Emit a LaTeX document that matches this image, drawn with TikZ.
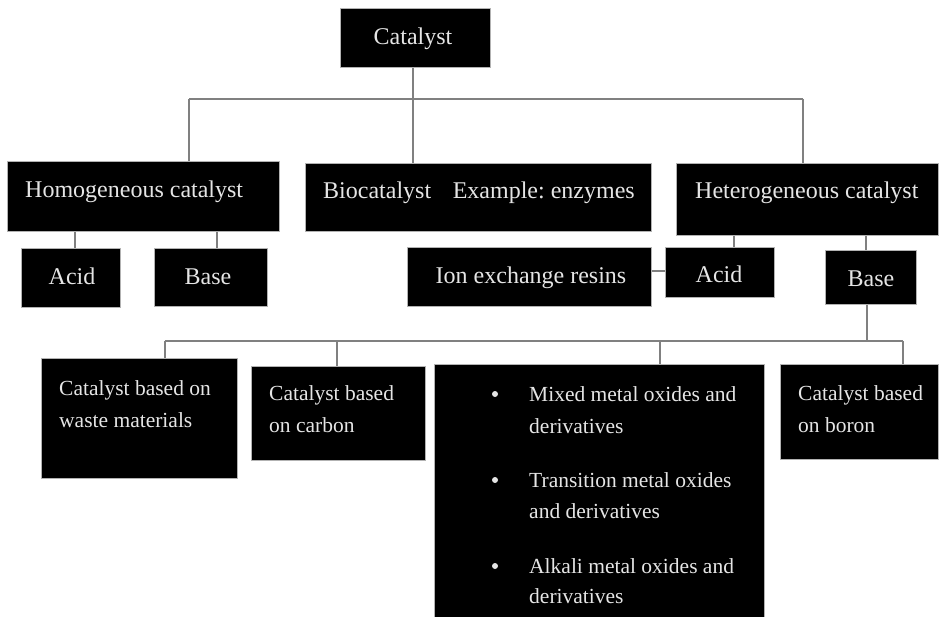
\documentclass[tikz,border=0pt]{standalone}
\usepackage{fontspec}
\setmainfont{Liberation Serif}
\begin{document}
\begin{tikzpicture}[x=1pt,y=-1pt,
  box/.style={fill=black,draw=gray!60,line width=0.8pt,anchor=north west,inner sep=0pt},
  big/.style={text=white!90!black,font=\frenchspacing\fontsize{24}{24}\selectfont,inner sep=0pt},
  small/.style={text=white!90!black,font=\fontsize{21.5}{21.5}\selectfont,inner sep=0pt,anchor=base west},
  dot/.style={circle,fill=white!90!black,inner sep=0pt,minimum size=6pt},
  conn/.style={draw=gray,line width=1.3pt}]
\useasboundingbox (0,0) rectangle (939,617);
% boxes
\node[box,minimum width=150,minimum height=59] (cat) at (340,8) {};
\node[box,minimum width=272,minimum height=70] (homo) at (7,161) {};
\node[box,minimum width=346,minimum height=68] (bio) at (305,163) {};
\node[box,minimum width=262,minimum height=72] (het) at (676,163) {};
\node[box,minimum width=99,minimum height=59] (acidL) at (21,248) {};
\node[box,minimum width=113,minimum height=58] (baseL) at (154,248) {};
\node[box,minimum width=244,minimum height=59] (ion) at (407,247) {};
\node[box,minimum width=109,minimum height=50] (acidR) at (665,247) {};
\node[box,minimum width=91,minimum height=54] (baseR) at (825,250) {};
\node[box,minimum width=196,minimum height=120] (waste) at (41,358) {};
\node[box,minimum width=174,minimum height=94] (carbon) at (251,366) {};
\node[box,minimum width=330,minimum height=256] (oxides) at (434,364) {};
\node[box,minimum width=158,minimum height=95] (boron) at (780,364) {};
% texts
\node[big,anchor=base] (tcat) at (413,45) {Catalyst};
\node[big,anchor=base west] (thomo) at (25,198) {Homogeneous catalyst};
\node[big,anchor=base west] (tbio) at (323,199) {Biocatalyst\hspace{0.9em}Example: enzymes};
\node[big,anchor=base west] (thet) at (695,199) {Heterogeneous catalyst};
\node[big,anchor=base] (tacidL) at (72,285) {Acid};
\node[big,anchor=base] (tbaseL) at (208,285) {Base};
\node[big,anchor=base] (tion) at (531,284) {Ion exchange resins};
\node[big,anchor=base] (tacidR) at (719,283) {Acid};
\node[big,anchor=base] (tbaseR) at (871,287) {Base};
\node[small] (tw1) at (59,395) {Catalyst based on};
\node[small] (tw2) at (59,427) {waste materials};
\node[small] (tc1) at (269,400) {Catalyst based};
\node[small] (tc2) at (269,432) {on carbon};
\node[small] (tb1) at (798,400) {Catalyst based};
\node[small] (tb2) at (798,432) {on boron};
\node[dot] (d1) at (495,394) {};
\node[small] (to1) at (529,401) {Mixed metal oxides and};
\node[small] (to2) at (529,433) {derivatives};
\node[dot] (d2) at (495,480) {};
\node[small] (to3) at (529,487) {Transition metal oxides};
\node[small] (to4) at (529,518) {and derivatives};
\node[dot] (d3) at (495,566) {};
\node[small] (to5) at (529,573) {Alkali metal oxides and};
\node[small] (to6) at (529,603) {derivatives};
% connectors
\coordinate (b1l) at (189,99);
\coordinate (b1r) at (803,99);
\coordinate (b1c) at (413,99);
\draw[conn] (b1l) -- (b1r);
\draw[conn] (b1c |- cat.south) -- (b1c |- bio.north);
\draw[conn] (b1l) -- (b1l |- homo.north);
\draw[conn] (b1r) -- (b1r |- het.north);
\coordinate (xa) at (75,0);
\coordinate (xb) at (217,0);
\draw[conn] (xa |- homo.south) -- (xa |- acidL.north);
\draw[conn] (xb |- homo.south) -- (xb |- baseL.north);
\coordinate (xc) at (734,0);
\coordinate (xd) at (866,0);
\draw[conn] (xc |- het.south) -- (xc |- acidR.north);
\draw[conn] (xd |- het.south) -- (xd |- baseR.north);
\coordinate (yi) at (0,271);
\draw[conn] (ion.east |- yi) -- (acidR.west |- yi);
\coordinate (b2l) at (165,341);
\coordinate (b2r) at (903,341);
\coordinate (b2a) at (337,341);
\coordinate (b2b) at (660,341);
\coordinate (b2c) at (867,341);
\draw[conn] (b2l) -- (b2r);
\draw[conn] (b2c |- baseR.south) -- (b2c);
\draw[conn] (b2l) -- (b2l |- waste.north);
\draw[conn] (b2a) -- (b2a |- carbon.north);
\draw[conn] (b2b) -- (b2b |- oxides.north);
\draw[conn] (b2r) -- (b2r |- boron.north);
\end{tikzpicture}
\end{document}
